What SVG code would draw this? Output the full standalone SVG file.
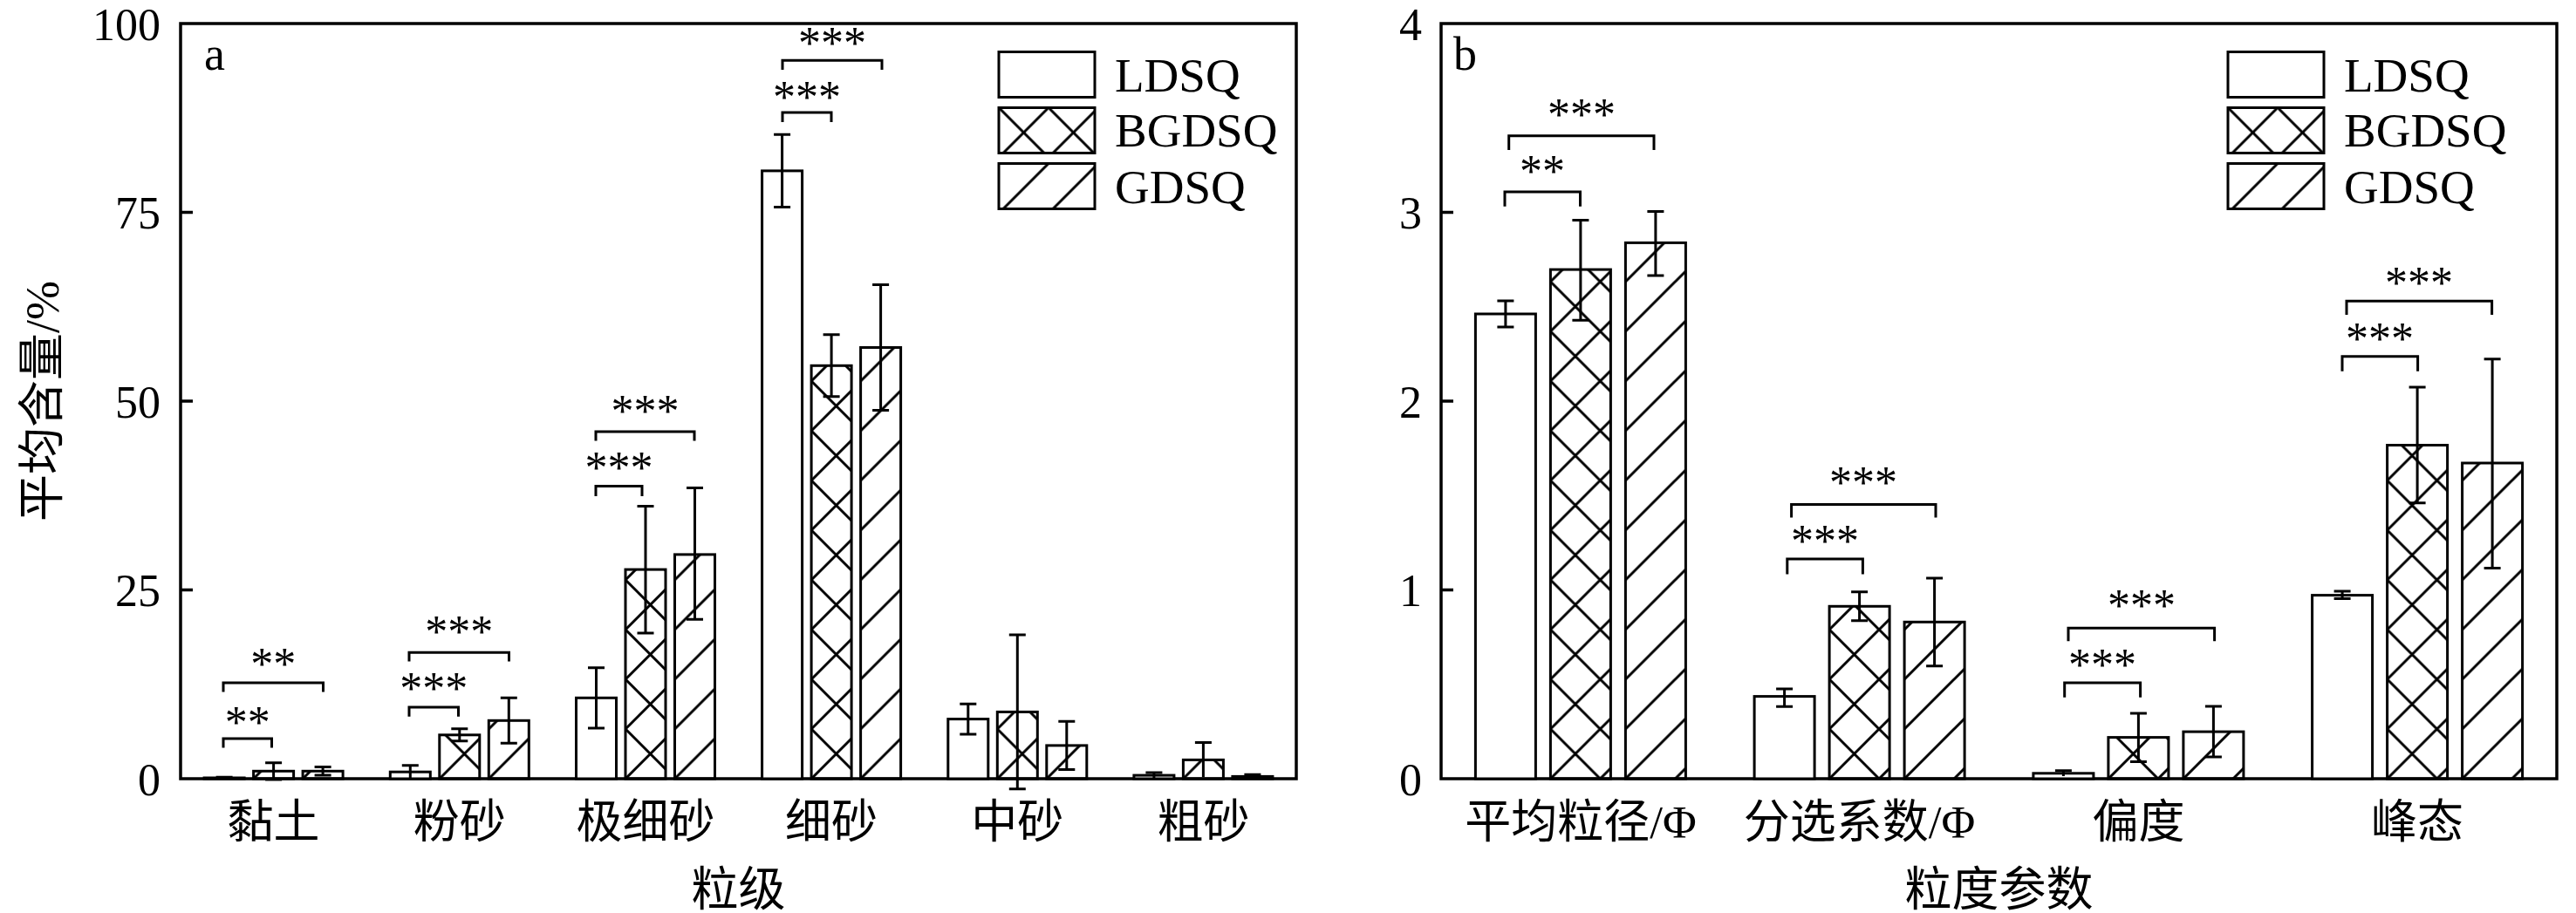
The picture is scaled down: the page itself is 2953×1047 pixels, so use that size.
<svg xmlns="http://www.w3.org/2000/svg" width="2953" height="1047" viewBox="0 0 2953 1047">
<style>
.frame{fill:none;stroke:#000;stroke-width:3.5}
.tick{stroke:#000;stroke-width:3.5}
.bar{stroke:#000;stroke-width:3}
.eb{fill:none;stroke:#000;stroke-width:3}
.br{fill:none;stroke:#000;stroke-width:3}
.pl{fill:none;stroke:#000;stroke-width:3}
.num{font-family:"Liberation Serif","Times New Roman",serif;font-size:52px;fill:#000}
.star{font-family:"Liberation Serif","Times New Roman",serif;font-size:52px;fill:#000;text-anchor:middle}
.leg{font-family:"Liberation Serif","Times New Roman",serif;font-size:55px;fill:#000}
.cat{font-family:"Liberation Serif","Noto Sans CJK SC",serif;font-size:53px;fill:#000;text-anchor:middle}
.ttl{font-family:"Liberation Serif","Noto Sans CJK SC",serif;font-size:54px;fill:#000;text-anchor:middle}
.pan{font-family:"Liberation Serif","Times New Roman",serif;font-size:54px;fill:#000}
</style>
<defs>
<pattern id="xh" patternUnits="userSpaceOnUse" x="0" y="0" width="57" height="57">
<path class="pl" d="M0,0 L57,57 M-14.25,42.75 L14.25,71.25 M42.75,-14.25 L71.25,14.25 M0,57 L57,0 M-14.25,14.25 L14.25,-14.25 M42.75,71.25 L71.25,42.75"/>
</pattern>
<pattern id="dg" patternUnits="userSpaceOnUse" x="0" y="0" width="57" height="57">
<path class="pl" d="M0,57 L57,0 M-14.25,14.25 L14.25,-14.25 M42.75,71.25 L71.25,42.75"/>
</pattern>
</defs>

<g id="panel-a-axes">
<rect class="frame" x="207" y="27" width="1279" height="866"/>
<path class="tick" d="M207,676.5 h14 M207,460 h14 M207,243.5 h14"/>
<text class="num" x="184" y="911.5" text-anchor="end">0</text>
<text class="num" x="184" y="695" text-anchor="end">25</text>
<text class="num" x="184" y="478.5" text-anchor="end">50</text>
<text class="num" x="184" y="262" text-anchor="end">75</text>
<text class="num" x="184" y="45.5" text-anchor="end">100</text>
<text class="pan" x="234" y="80">a</text>
<text class="ttl" transform="translate(67,460) rotate(-90)">平均含量/%</text>
<text class="ttl" x="846.5" y="1039">粒级</text>
</g>

<g id="panel-a-categories">
<text class="cat" x="313.6" y="961">黏土</text>
<text class="cat" x="526.8" y="961">粉砂</text>
<text class="cat" x="740" y="961">极细砂</text>
<text class="cat" x="953.1" y="961">细砂</text>
<text class="cat" x="1166.3" y="961">中砂</text>
<text class="cat" x="1379.4" y="961">粗砂</text>
</g>

<g id="panel-a-bars">
<g id="a-clay">
<g transform="translate(234.1,893)"><rect class="bar" fill="#fff" x="0" y="-1" width="46" height="1"/></g>
<g transform="translate(290.6,893)"><rect class="bar" fill="url(#xh)" x="0" y="-8.7" width="46" height="8.7"/></g>
<g transform="translate(347.1,893)"><rect class="bar" fill="url(#dg)" x="0" y="-8.7" width="46" height="8.7"/></g>
<path class="eb" d="M257.1,891.3 V893.9 M247.6,891.3 h19 M313.6,874.8 V893.9 M304.1,874.8 h19 M304.1,893.9 h19 M370.1,879.6 V889.1 M360.6,879.6 h19 M360.6,889.1 h19"/>
</g>
<g id="a-silt">
<g transform="translate(447.3,893)"><rect class="bar" fill="#fff" x="0" y="-7.8" width="46" height="7.8"/></g>
<g transform="translate(503.8,893)"><rect class="bar" fill="url(#xh)" x="0" y="-50.2" width="46" height="50.2"/></g>
<g transform="translate(560.3,893)"><rect class="bar" fill="url(#dg)" x="0" y="-66.7" width="46" height="66.7"/></g>
<path class="eb" d="M470.3,877.8 V892.6 M460.8,877.8 h19 M526.8,835.8 V849.7 M517.3,835.8 h19 M517.3,849.7 h19 M583.3,800.3 V852.3 M573.8,800.3 h19 M573.8,852.3 h19"/>
</g>
<g id="a-vfine">
<g transform="translate(660.5,893)"><rect class="bar" fill="#fff" x="0" y="-92.7" width="46" height="92.7"/></g>
<g transform="translate(717,893)"><rect class="bar" fill="url(#xh)" x="0" y="-239.9" width="46" height="239.9"/></g>
<g transform="translate(773.5,893)"><rect class="bar" fill="url(#dg)" x="0" y="-257.1" width="46" height="257.1"/></g>
<path class="eb" d="M683.5,765.7 V835 M674,765.7 h19 M674,835 h19 M740,580.4 V725.9 M730.5,580.4 h19 M730.5,725.9 h19 M796.5,559.6 V710.3 M787,559.6 h19 M787,710.3 h19"/>
</g>
<g id="a-fine">
<g transform="translate(873.6,893)"><rect class="bar" fill="#fff" x="0" y="-697.1" width="46" height="697.1"/></g>
<g transform="translate(930.1,893)"><rect class="bar" fill="url(#xh)" x="0" y="-473.7" width="46" height="473.7"/></g>
<g transform="translate(986.6,893)"><rect class="bar" fill="url(#dg)" x="0" y="-494.5" width="46" height="494.5"/></g>
<path class="eb" d="M896.6,154.3 V237.4 M887.1,154.3 h19 M887.1,237.4 h19 M953.1,383.8 V454.8 M943.6,383.8 h19 M943.6,454.8 h19 M1009.6,326.6 V470.4 M1000.1,326.6 h19 M1000.1,470.4 h19"/>
</g>
<g id="a-medium">
<g transform="translate(1086.8,893)"><rect class="bar" fill="#fff" x="0" y="-68.4" width="46" height="68.4"/></g>
<g transform="translate(1143.3,893)"><rect class="bar" fill="url(#xh)" x="0" y="-76.6" width="46" height="76.6"/></g>
<g transform="translate(1199.8,893)"><rect class="bar" fill="url(#dg)" x="0" y="-38.1" width="46" height="38.1"/></g>
<path class="eb" d="M1109.8,807.3 V841.9 M1100.3,807.3 h19 M1100.3,841.9 h19 M1166.3,728 V904.7 M1156.8,728 h19 M1156.8,904.7 h19 M1222.8,827.2 V882.6 M1213.3,827.2 h19 M1213.3,882.6 h19"/>
</g>
<g id="a-coarse">
<g transform="translate(1299.9,893)"><rect class="bar" fill="#fff" x="0" y="-3.9" width="46" height="3.9"/></g>
<g transform="translate(1356.4,893)"><rect class="bar" fill="url(#xh)" x="0" y="-21.6" width="46" height="21.6"/></g>
<g transform="translate(1412.9,893)"><rect class="bar" fill="url(#dg)" x="0" y="-2.6" width="46" height="2.6"/></g>
<path class="eb" d="M1322.9,886.1 V892.1 M1313.4,886.1 h19 M1379.4,851.4 V891.3 M1369.9,851.4 h19 M1435.9,888.2 V892.6 M1426.4,888.2 h19"/>
</g>
</g>

<g id="panel-a-legend">
<g transform="translate(1145,59.5)"><rect class="bar" fill="#fff" x="0" y="0" width="110" height="52"/></g>
<g transform="translate(1145,123.5)"><rect class="bar" fill="url(#xh)" x="0" y="0" width="110" height="52"/></g>
<g transform="translate(1145,187.5)"><rect class="bar" fill="url(#dg)" x="0" y="0" width="110" height="52"/></g>
<text class="leg" x="1278" y="105">LDSQ</text>
<text class="leg" x="1278" y="168">BGDSQ</text>
<text class="leg" x="1278" y="233">GDSQ</text>
</g>

<g id="panel-b-axes">
<rect class="frame" x="1652" y="27" width="1279" height="866"/>
<path class="tick" d="M1652,676.5 h14 M1652,460 h14 M1652,243.5 h14"/>
<text class="num" x="1630" y="911.5" text-anchor="end">0</text>
<text class="num" x="1630" y="695" text-anchor="end">1</text>
<text class="num" x="1630" y="478.5" text-anchor="end">2</text>
<text class="num" x="1630" y="262" text-anchor="end">3</text>
<text class="num" x="1630" y="45.5" text-anchor="end">4</text>
<text class="pan" x="1666" y="80">b</text>
<text class="ttl" x="2291.5" y="1039">粒度参数</text>
</g>

<g id="panel-b-categories">
<text class="cat" x="1811.9" y="961">平均粒径/Φ</text>
<text class="cat" x="2131.6" y="961">分选系数/Φ</text>
<text class="cat" x="2451.4" y="961">偏度</text>
<text class="cat" x="2771.1" y="961">峰态</text>
</g>

<g id="panel-b-bars">
<g id="b-mean">
<g transform="translate(1691.4,893)"><rect class="bar" fill="#fff" x="0" y="-533" width="69" height="533"/></g>
<g transform="translate(1777.4,893)"><rect class="bar" fill="url(#xh)" x="0" y="-583.9" width="69" height="583.9"/></g>
<g transform="translate(1863.4,893)"><rect class="bar" fill="url(#dg)" x="0" y="-614.6" width="69" height="614.6"/></g>
<path class="eb" d="M1725.9,345 V374.9 M1716.4,345 h19 M1716.4,374.9 h19 M1811.9,252.6 V367.3 M1802.4,252.6 h19 M1802.4,367.3 h19 M1897.9,242.4 V316 M1888.4,242.4 h19 M1888.4,316 h19"/>
</g>
<g id="b-sorting">
<g transform="translate(2011.1,893)"><rect class="bar" fill="#fff" x="0" y="-94.4" width="69" height="94.4"/></g>
<g transform="translate(2097.1,893)"><rect class="bar" fill="url(#xh)" x="0" y="-197.7" width="69" height="197.7"/></g>
<g transform="translate(2183.1,893)"><rect class="bar" fill="url(#dg)" x="0" y="-179.7" width="69" height="179.7"/></g>
<path class="eb" d="M2045.6,789.9 V810.3 M2036.1,789.9 h19 M2036.1,810.3 h19 M2131.6,678.7 V711.8 M2122.1,678.7 h19 M2122.1,711.8 h19 M2217.6,663.1 V763.7 M2208.1,663.1 h19 M2208.1,763.7 h19"/>
</g>
<g id="b-skew">
<g transform="translate(2330.9,893)"><rect class="bar" fill="#fff" x="0" y="-6.2" width="69" height="6.2"/></g>
<g transform="translate(2416.9,893)"><rect class="bar" fill="url(#xh)" x="0" y="-47.4" width="69" height="47.4"/></g>
<g transform="translate(2502.9,893)"><rect class="bar" fill="url(#dg)" x="0" y="-53.9" width="69" height="53.9"/></g>
<path class="eb" d="M2365.4,883.7 V890 M2355.9,883.7 h19 M2451.4,818.1 V873.5 M2441.9,818.1 h19 M2441.9,873.5 h19 M2537.4,810.1 V868.1 M2527.9,810.1 h19 M2527.9,868.1 h19"/>
</g>
<g id="b-kurt">
<g transform="translate(2650.6,893)"><rect class="bar" fill="#fff" x="0" y="-210.4" width="69" height="210.4"/></g>
<g transform="translate(2736.6,893)"><rect class="bar" fill="url(#xh)" x="0" y="-382.5" width="69" height="382.5"/></g>
<g transform="translate(2822.6,893)"><rect class="bar" fill="url(#dg)" x="0" y="-362" width="69" height="362"/></g>
<path class="eb" d="M2685.1,678 V686.5 M2675.6,678 h19 M2675.6,686.5 h19 M2771.1,444 V576.7 M2761.6,444 h19 M2761.6,576.7 h19 M2857.1,411.7 V651.6 M2847.6,411.7 h19 M2847.6,651.6 h19"/>
</g>
</g>

<g id="panel-b-legend">
<g transform="translate(2554,59.5)"><rect class="bar" fill="#fff" x="0" y="0" width="110" height="52"/></g>
<g transform="translate(2554,123.5)"><rect class="bar" fill="url(#xh)" x="0" y="0" width="110" height="52"/></g>
<g transform="translate(2554,187.5)"><rect class="bar" fill="url(#dg)" x="0" y="0" width="110" height="52"/></g>
<text class="leg" x="2687" y="105">LDSQ</text>
<text class="leg" x="2687" y="168">BGDSQ</text>
<text class="leg" x="2687" y="233">GDSQ</text>
</g>

<g id="connectors">
<path class="br" d="M256,857.5 V847 H311.5 V857.5 M256,793.5 V783 H370.5 V793.5 M469,821.7 V811 H525.5 V821.7 M469,758.5 V748.3 H583.5 V758.5 M683,569 V557.5 H736 V569 M683,505.5 V495 H796 V505.5 M897,140 V129 H953 V140 M897,80 V69.3 H1011 V80"/>
<path class="br" d="M1725,236.7 V220 H1811.5 V236.7 M1729.7,172 V155.7 H1896 V172 M2048.8,658.5 V641.1 H2135.4 V658.5 M2053.6,593.4 V578.4 H2219 V593.4 M2366.7,799.7 V782.9 H2453.6 V799.7 M2371,735.2 V720.2 H2538.6 V735.2 M2685,425.7 V408.7 H2771.6 V425.7 M2690,361 V345.3 H2856.6 V361"/>
<text class="star" x="283.8" y="845.7">**</text>
<text class="star" x="313.3" y="779">**</text>
<text class="star" x="497.3" y="806.7">***</text>
<text class="star" x="526.3" y="742.2">***</text>
<text class="star" x="709.5" y="554">***</text>
<text class="star" x="739.5" y="489">***</text>
<text class="star" x="925" y="129">***</text>
<text class="star" x="954" y="67">***</text>
<text class="star" x="1768" y="214">**</text>
<text class="star" x="1813" y="149">***</text>
<text class="star" x="2092" y="638.4">***</text>
<text class="star" x="2136" y="570.8">***</text>
<text class="star" x="2410" y="779.5">***</text>
<text class="star" x="2455" y="712">***</text>
<text class="star" x="2728" y="405.7">***</text>
<text class="star" x="2773" y="342.3">***</text>
</g>
</svg>
